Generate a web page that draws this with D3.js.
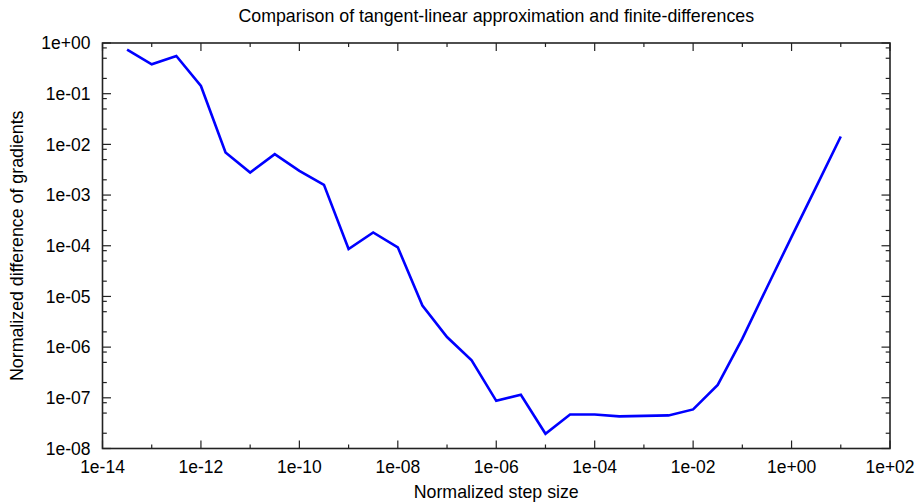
<!DOCTYPE html>
<html lang="en">
<head>
    <meta charset="UTF-8">
    <title>Tangent-linear vs finite differences</title>
    <script src="https://d3js.org/d3.v7.min.js"></script>
    <style>
        body { margin: 0; background: #fff; }
        svg { display: block; }
        text { font-family: "Liberation Sans", Arial, Helvetica, sans-serif; fill: #000; }
    </style>
</head>
<body>
    <svg id="chart"></svg>

    <script>
        // step sizes (x) and normalized gradient differences (y)
        const stepSizes = [
            3.16e-14, 1e-13, 3.16e-13, 1e-12, 3.16e-12, 1e-11, 3.16e-11, 1e-10,
            3.16e-10, 1e-9, 3.16e-9, 1e-8, 3.16e-8, 1e-7, 3.16e-7, 1e-6,
            3.16e-6, 1e-5, 3.16e-5, 1e-4, 3.16e-4, 1e-3, 3.16e-3, 1e-2,
            3.16e-2, 1e-1, 3.16e-1, 1, 3.16, 10
        ];
        const gradDiffs = [
            0.74, 0.38, 0.555, 0.142, 6.9e-3, 2.78e-3, 6.4e-3, 3.0e-3,
            1.59e-3, 8.6e-5, 1.83e-4, 9.3e-5, 6.6e-6, 1.58e-6, 5.5e-7, 8.7e-8,
            1.15e-7, 1.95e-8, 4.68e-8, 4.7e-8, 4.3e-8, 4.4e-8, 4.5e-8, 5.9e-8,
            1.8e-7, 1.47e-6, 1.5e-5, 1.5e-4, 1.45e-3, 1.43e-2
        ];
        const xTickValues = [1e-14, 1e-12, 1e-10, 1e-8, 1e-6, 1e-4, 1e-2, 1, 1e2];
        const xTickLabels = ["1e-14", "1e-12", "1e-10", "1e-08", "1e-06", "1e-04", "1e-02", "1e+00", "1e+02"];
        const yTickValues = [1, 1e-1, 1e-2, 1e-3, 1e-4, 1e-5, 1e-6, 1e-7, 1e-8];
        const yTickLabels = ["1e+00", "1e-01", "1e-02", "1e-03", "1e-04", "1e-05", "1e-06", "1e-07", "1e-08"];

        const width = 916, height = 503;
        const margin = { top: 43, right: 26, bottom: 54.5, left: 102.5 };
        const iw = width - margin.left - margin.right;
        const ih = height - margin.top - margin.bottom;

        const svg = d3.select("#chart").attr("width", width).attr("height", height);
        const g = svg.append("g").attr("transform", `translate(${margin.left},${margin.top})`);

        const x = d3.scaleLog().domain([1e-14, 1e2]).range([0, iw]);
        const y = d3.scaleLog().domain([1e-8, 1]).range([ih, 0]);

        // minor ticks: every decade on x, 2/5/8 within each decade on y
        const xMinor = d3.range(-13, 2, 2).map(e => Math.pow(10, e));
        const yMinor = [];
        d3.range(-8, 0).forEach(e => [2, 5, 8].forEach(m => yMinor.push(m * Math.pow(10, e))));

        const tickColor = "#222";
        const ticks = g.append("g").attr("stroke", tickColor).attr("stroke-width", 1.2);

        function xTicks(vals, len) {
            vals.forEach(v => {
                ticks.append("line").attr("x1", x(v)).attr("x2", x(v)).attr("y1", ih).attr("y2", ih - len);
                ticks.append("line").attr("x1", x(v)).attr("x2", x(v)).attr("y1", 0).attr("y2", len);
            });
        }
        function yTicks(vals, len) {
            vals.forEach(v => {
                ticks.append("line").attr("y1", y(v)).attr("y2", y(v)).attr("x1", 0).attr("x2", len);
                ticks.append("line").attr("y1", y(v)).attr("y2", y(v)).attr("x1", iw).attr("x2", iw - len);
            });
        }
        xTicks(xTickValues, 8);
        xTicks(xMinor, 4);
        yTicks(yTickValues, 8.5);
        yTicks(yMinor, 4.3);

        // tick labels
        g.append("g").selectAll("text")
            .data(xTickValues)
            .join("text")
            .attr("x", d => x(d))
            .attr("y", ih + 24)
            .attr("text-anchor", "middle")
            .attr("font-size", 17.5)
            .text((d, i) => xTickLabels[i]);

        g.append("g").selectAll("text")
            .data(yTickValues)
            .join("text")
            .attr("x", -12)
            .attr("y", d => y(d))
            .attr("dy", "0.35em")
            .attr("text-anchor", "end")
            .attr("font-size", 17.5)
            .text((d, i) => yTickLabels[i]);

        // data line
        const line = d3.line()
            .x((d, i) => x(stepSizes[i]))
            .y(d => y(d));

        g.append("path")
            .datum(gradDiffs)
            .attr("fill", "none")
            .attr("stroke", "#0000ff")
            .attr("stroke-width", 2.6)
            .attr("stroke-linejoin", "miter")
            .attr("d", line);

        // frame
        g.append("rect")
            .attr("width", iw)
            .attr("height", ih)
            .attr("fill", "none")
            .attr("stroke", tickColor)
            .attr("stroke-width", 1.6);

        // titles
        svg.append("text")
            .attr("x", margin.left + iw / 2)
            .attr("y", 22)
            .attr("text-anchor", "middle")
            .attr("font-size", 17.8)
            .text("Comparison of tangent-linear approximation and finite-differences");

        svg.append("text")
            .attr("x", margin.left + iw / 2)
            .attr("y", 498)
            .attr("text-anchor", "middle")
            .attr("font-size", 17.8)
            .text("Normalized step size");

        svg.append("text")
            .attr("transform", `translate(23,${margin.top + ih / 2}) rotate(-90)`)
            .attr("text-anchor", "middle")
            .attr("font-size", 17.8)
            .text("Normalized difference of gradients");
    </script>
</body>
</html>
